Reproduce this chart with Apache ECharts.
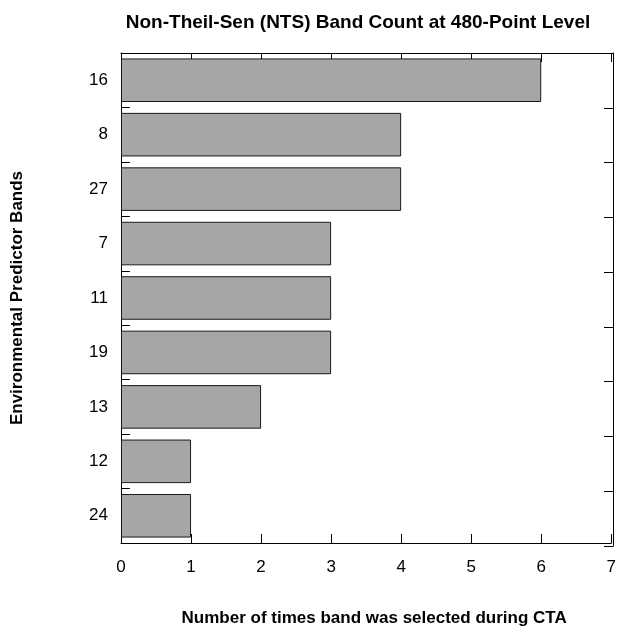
<!DOCTYPE html>
<html><head><meta charset="utf-8">
<script src="https://cdn.jsdelivr.net/npm/echarts@6/dist/echarts.min.js"></script>
<style>html,body{margin:0;padding:0;background:#fff}#c{width:619px;height:632px}</style>
</head><body><div id="c"></div>
<script>
const bands = ['16','8','27','7','11','19','13','12','24'];
const counts = [6,4,4,3,3,3,2,1,1];
const xTicks = [0,1,2,3,4,5,6,7];

const font = 'Liberation Sans, Arial, sans-serif';
const chart = echarts.init(document.getElementById('c'), null, {renderer:'canvas'});
const ls = {color:'#000', width:1};
chart.setOption({
  animation:false,
  backgroundColor:'#fff',
  title:{text:'Non-Theil-Sen (NTS) Band Count at 480-Point Level', left:353, top:8, textAlign:'center',
    textStyle:{fontFamily:font, fontSize:19, fontWeight:'bold', color:'#000'}},
  grid:[{left:121, right:6, top:53, bottom:86, containLabel:false},
        {left:613, right:5, top:53, bottom:86, containLabel:false}],
  xAxis:[{type:'value', gridIndex:0, min:xTicks[0], max:xTicks[xTicks.length-1], interval:1, position:'bottom',
    name:'Number of times band was selected during CTA', nameLocation:'middle', nameGap:67,
    nameTextStyle:{fontFamily:font, fontSize:17, fontWeight:'bold', color:'#000', padding:[0,0,0,16]},
    axisLine:{show:true, lineStyle:ls}, axisTick:{show:true, inside:true, length:9, lineStyle:ls},
    axisLabel:{fontFamily:font, fontSize:17, color:'#000', margin:16}, splitLine:{show:false}},
   {type:'value', gridIndex:0, min:xTicks[0], max:xTicks[xTicks.length-1], interval:1, position:'top',
    axisLine:{show:true, lineStyle:ls}, axisTick:{show:true, inside:true, length:9, lineStyle:ls},
    axisLabel:{show:false}, splitLine:{show:false}},
   {type:'value', gridIndex:1, min:0, max:1, show:false}],
  yAxis:[{type:'category', gridIndex:0, data:bands, inverse:true, position:'left',
    name:'Environmental Predictor Bands', nameLocation:'middle', nameGap:95, nameRotate:90,
    nameTextStyle:{fontFamily:font, fontSize:17, fontWeight:'bold', color:'#000'},
    axisLine:{show:true, lineStyle:ls}, axisTick:{show:true, inside:true, length:9, lineStyle:ls},
    axisLabel:{fontFamily:font, fontSize:17, color:'#000', margin:13}},
   {type:'category', gridIndex:1, data:bands, inverse:true, position:'left',
    axisLine:{show:true, lineStyle:ls}, axisTick:{show:true, inside:false, length:9, lineStyle:ls},
    axisLabel:{show:false}, splitLine:{show:false}}],
  series:[{type:'bar', data:counts, xAxisIndex:0, yAxisIndex:0, barCategoryGap:'20%',
    itemStyle:{color:'#a6a6a6', borderColor:'#1a1a1a', borderWidth:1}}]
});
</script></body></html>
